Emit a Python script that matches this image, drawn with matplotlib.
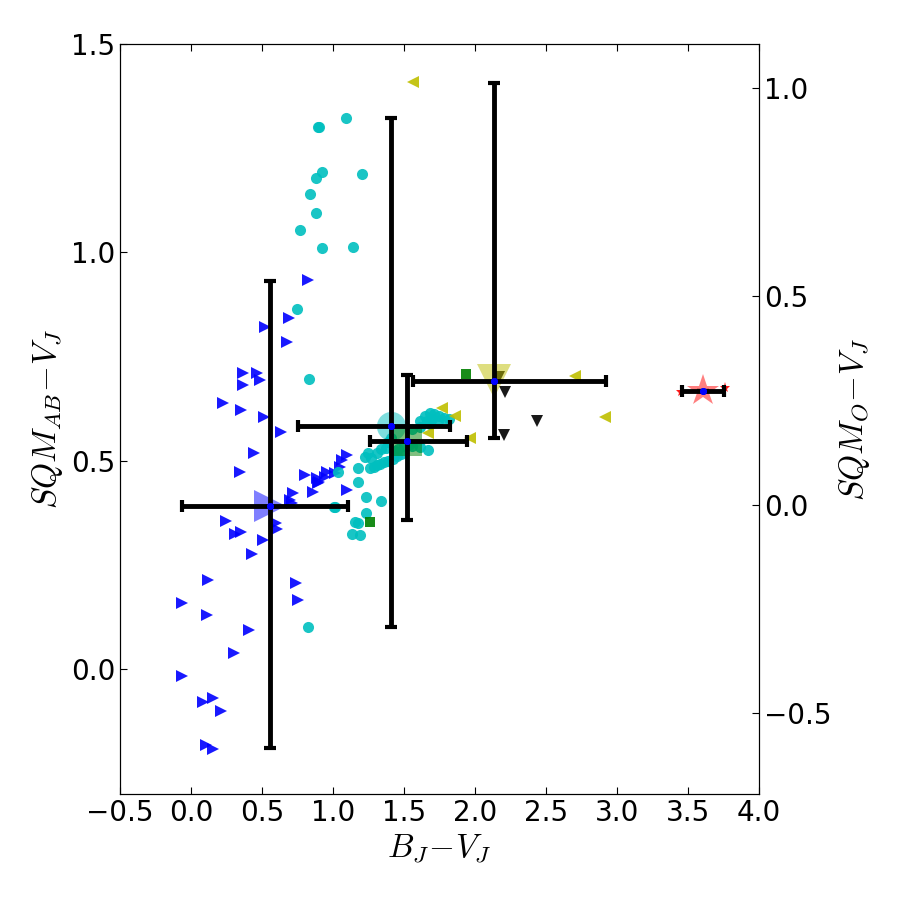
import matplotlib
matplotlib.use('Agg')
import matplotlib.pyplot as plt

plt.rcParams['mathtext.fontset'] = 'cm'
plt.rcParams['xtick.direction'] = 'in'
plt.rcParams['ytick.direction'] = 'in'
plt.rcParams['xtick.top'] = True
plt.rcParams['xtick.major.size'] = 5
plt.rcParams['ytick.major.size'] = 5

# classic colours
BLUE = (0, 0, 1)
CYAN = (0, 0.75, 0.75)
YELLOW = (0.75, 0.75, 0)
GREEN = (0, 0.5, 0)
RED = (1, 0, 0)

# blue right-pointing triangles
tri_x = [-0.063, -0.063, 0.113, 0.120, 0.085, 0.155, 0.211, 0.106, 0.155, 0.246,
         0.310, 0.352, 0.303, 0.408, 0.430, 0.507, 0.599, 0.606, 0.739, 0.754,
         0.718, 0.711, 0.859, 0.901, 1.099, 0.676, 0.366, 0.465, 0.486, 0.366,
         0.225, 0.352, 0.514, 0.634, 0.444, 0.345, 0.803, 0.887, 0.894, 0.944,
         0.958, 1.014, 1.049, 1.063, 1.099, 0.521, 0.690, 0.824, 0.697]
tri_y = [0.158, -0.017, 0.130, 0.214, -0.079, -0.070, -0.101, -0.182, -0.192, 0.355,
         0.324, 0.329, 0.038, 0.094, 0.276, 0.310, 0.350, 0.336, 0.206, 0.166,
         0.422, 0.398, 0.425, 0.449, 0.430, 0.785, 0.710, 0.710, 0.694, 0.682,
         0.638, 0.622, 0.605, 0.569, 0.518, 0.473, 0.466, 0.458, 0.446, 0.461,
         0.473, 0.470, 0.485, 0.502, 0.514, 0.821, 0.842, 0.934, 0.406]

# cyan circles
circ_x = [1.092, 0.894, 0.901, 0.923, 0.880, 1.204, 0.838, 0.880, 0.768, 0.923,
          1.141, 0.746, 0.831, 0.824, 1.007,
          1.176, 1.176, 1.232, 1.338, 1.232, 1.155, 1.176, 1.134, 1.190, 1.014, 1.035,
          1.225, 1.246, 1.26, 1.29, 1.31, 1.33, 1.36, 1.39, 1.42, 1.45, 1.48,
          1.27, 1.31, 1.34, 1.37, 1.39, 1.41,
          1.61, 1.65, 1.68, 1.71, 1.75, 1.78, 1.82, 1.66, 1.70, 1.74, 1.68, 1.61, 1.56,
          1.67, 1.61, 1.56, 1.54, 1.50, 1.46, 1.44]
circ_y = [1.322, 1.301, 1.301, 1.193, 1.178, 1.188, 1.140, 1.094, 1.054, 1.010,
          1.013, 0.864, 0.696, 0.101, 0.389,
          0.482, 0.449, 0.413, 0.403, 0.374, 0.353, 0.350, 0.324, 0.322, 0.389, 0.473,
          0.509, 0.518, 0.482, 0.485, 0.490, 0.492, 0.497, 0.500, 0.505, 0.510, 0.515,
          0.507, 0.518, 0.529, 0.531, 0.545, 0.555,
          0.595, 0.607, 0.614, 0.612, 0.607, 0.603, 0.600, 0.595, 0.600, 0.595, 0.589, 0.580, 0.575,
          0.525, 0.532, 0.536, 0.541, 0.536, 0.529, 0.524]

# yellow left-pointing triangles
ltri_x = [1.563, 2.704, 2.915, 1.768, 1.859, 1.669, 1.965]
ltri_y = [1.409, 0.703, 0.605, 0.626, 0.607, 0.566, 0.554]

# black down triangles
dtri_x = [2.169, 2.211, 2.437, 2.204]
dtri_y = [0.700, 0.665, 0.595, 0.562]

# green squares
sq_x = [1.261, 1.937]
sq_y = [0.353, 0.708]

# small red stars
star_x = [3.45, 3.76]
star_y = [0.665, 0.675]

# group means with asymmetric errors
mean_x = [0.556, 1.408, 1.521, 2.134, 3.606]
mean_y = [0.391, 0.583, 0.547, 0.691, 0.667]
xerr_lo = [0.62, 0.654, 0.261, 0.571, 0.148]
xerr_hi = [0.55, 0.416, 0.423, 0.789, 0.148]
yerr_lo = [0.58, 0.482, 0.189, 0.137, 0.0]
yerr_hi = [0.54, 0.739, 0.159, 0.715, 0.0]
mean_marker = ['>', 'o', 's', 'v', '*']
mean_color = [BLUE, CYAN, GREEN, YELLOW, RED]
mean_size = [23, 21, 21, 24, 24]

right_offset = 0.394

fig = plt.figure(figsize=(9, 9), dpi=100, facecolor='white')
ax = fig.add_subplot(111)
fig.subplots_adjust(left=0.1333, right=0.8433, bottom=0.1178, top=0.9511)

ms = 8
ax.plot(tri_x, tri_y, '>', color=BLUE, ms=ms, mew=0, alpha=0.9)
ax.plot(circ_x, circ_y, 'o', color=CYAN, ms=ms, mew=0, alpha=0.9)
ax.plot(ltri_x, ltri_y, '<', color=YELLOW, ms=ms, mew=0, alpha=0.9)
ax.plot(dtri_x, dtri_y, 'v', color='k', ms=ms, mew=0, alpha=0.9)
ax.plot(sq_x, sq_y, 's', color=GREEN, ms=ms - 1, mew=0, alpha=0.9)
ax.plot(star_x, star_y, '*', color=RED, ms=ms, mew=0, alpha=0.9)

for i in range(len(mean_x)):
    ax.plot(mean_x[i], mean_y[i], mean_marker[i], color=mean_color[i],
            ms=mean_size[i], mew=0, alpha=0.5)

ax.errorbar(mean_x, mean_y, xerr=[xerr_lo, xerr_hi], yerr=[yerr_lo, yerr_hi],
            fmt='.', color='k', mfc=BLUE, mec=BLUE, ms=8, ecolor='k',
            elinewidth=3.5, capsize=4, capthick=3, zorder=5)
ax.plot(mean_x, mean_y, '.', color=BLUE, ms=8, zorder=6)

ax.set_xlim(-0.5, 4.0)
ax.set_ylim(-0.3, 1.5)
ax.set_xticks([-0.5, 0.0, 0.5, 1.0, 1.5, 2.0, 2.5, 3.0, 3.5, 4.0])
ax.set_yticks([0.0, 0.5, 1.0, 1.5])
ax.tick_params(labelsize=20)
ax.set_xlabel(r'$B_J\!-\!V_J$', fontsize=24)
ax.set_ylabel(r'$SQM_{AB}\!-\!V_J$', fontsize=24)

ax2 = ax.twinx()
ax2.set_ylim(-0.3 - right_offset, 1.5 - right_offset)
ax2.set_yticks([-0.5, 0.0, 0.5, 1.0])
ax2.tick_params(labelsize=20, direction='in', length=5)
ax2.set_ylabel(r'$SQM_O\!-\!V_J$', fontsize=24)

fig.savefig('out.png', dpi=100, facecolor='white')
